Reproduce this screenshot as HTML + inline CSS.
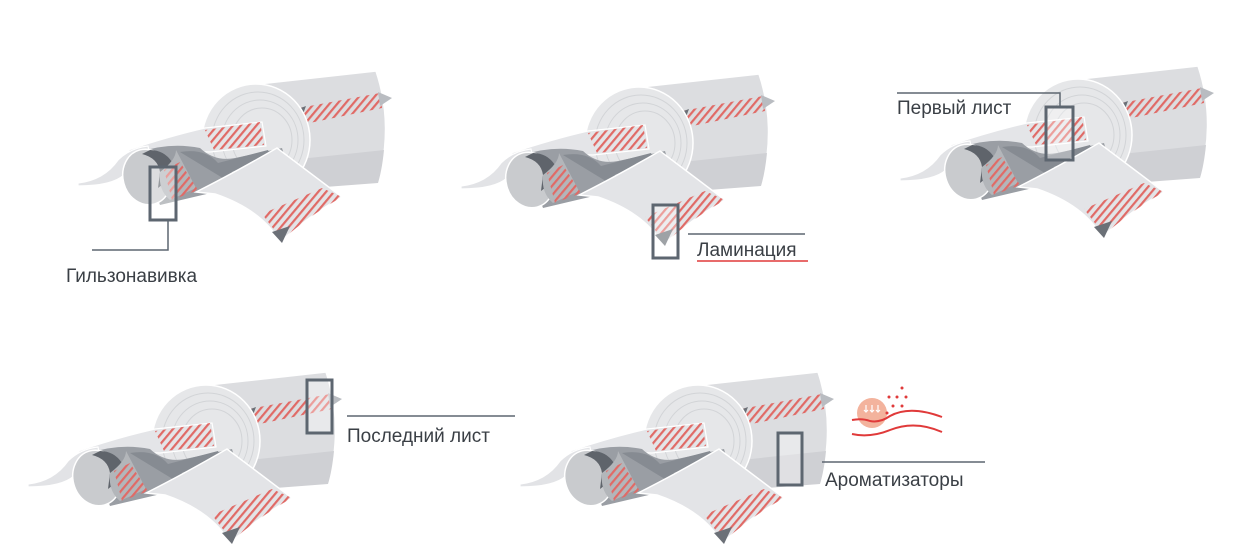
<!DOCTYPE html>
<html><head><meta charset="utf-8"><style>
html,body{margin:0;padding:0;background:#fff;}
svg{display:block;}
text{font-family:"Liberation Sans",sans-serif;fill:#3a3f45;}
</style></head><body>
<svg width="1233" height="560" viewBox="0 0 1233 560" xmlns="http://www.w3.org/2000/svg">
<defs>
<pattern id="h" width="6" height="6" patternUnits="userSpaceOnUse" patternTransform="rotate(40)">
<rect width="2.2" height="6" fill="#e06a66"/>
</pattern>
<g id="roll">
 <!-- big cylinder body -->
 <path d="M240,86 L376,71 Q394,125 378,183 L280,190 Z" fill="#dcdde0" stroke="#fff" stroke-width="1.5"/>
 <path d="M290,160 L384,150 Q382,170 378,183 L285,190 Z" fill="#cfd0d4"/>
 <!-- hatch band on big cylinder -->
 <path d="M288,110 L380,93 L382,108 L295,126 Z" fill="url(#h)"/>
 <path d="M290,112 L306,106 L300,122 Z" fill="#6b7077"/>
 <path d="M378,92 L392,98 L380,106 Z" fill="#b9bcc1"/>
 <!-- left end of big roll -->
 <ellipse cx="256" cy="140" rx="54" ry="56" fill="#e6e7e9" stroke="#fff" stroke-width="1.5"/>
 <ellipse cx="258" cy="140" rx="46" ry="48" fill="none" stroke="#d2d4d7" stroke-width="1"/>
 <ellipse cx="260" cy="140" rx="38" ry="40" fill="none" stroke="#d2d4d7" stroke-width="1"/>
 <ellipse cx="262" cy="140" rx="30" ry="32" fill="none" stroke="#d2d4d7" stroke-width="1"/>
 <!-- upper sheet going into roll -->
 <path d="M128,150 Q170,136 205,128 L262,122 L266,146 L210,152 Q170,150 140,160 Z" fill="#e4e5e8" stroke="#fff" stroke-width="1.2"/>
 <path d="M205,130 L260,122 L264,145 L214,150 Z" fill="url(#h)"/>
 <!-- gray tube body -->
 <path d="M140,152 Q170,142 200,148 Q215,162 235,158 L282,148 L288,168 L215,192 L160,205 Z" fill="#9a9ea4"/>
 <path d="M180,152 Q205,148 218,163 L268,150 L275,166 L226,180 Z" fill="#868b92"/>
 <path d="M232,172 L262,160 L268,168 L238,178 Z" fill="#c8cacd"/>
 <!-- left flap -->
 <path d="M78,183 Q104,180 118,160 Q130,148 148,146 L150,156 Q132,160 124,175 Q112,186 78,186 Z" fill="#e2e3e6" stroke="#fff" stroke-width="1.2"/>
 <!-- tube opening -->
 <ellipse cx="147" cy="177" rx="24" ry="28" transform="rotate(-15 147 177)" fill="#c9cbce" stroke="#fff" stroke-width="1.5"/>
 <path d="M142,154 Q158,158 160,172 L158,188 Q172,178 172,162 Q164,150 150,150 Z" fill="#5f646b"/>
 <path d="M160,172 Q176,160 176,150 L196,188 L170,200 Q158,190 160,172 Z" fill="#b3b6ba"/>
 <path d="M164,170 L180,162 L198,190 L172,200 Z" fill="url(#h)"/>
 <!-- lower sheet -->
 <path d="M196,192 Q230,175 277,148 L342,197 Q310,215 280,242 Q262,210 215,194 Z" fill="#e3e4e7" stroke="#fff" stroke-width="1.5"/>
 <path d="M262,214 L322,188 L342,197 Q310,215 282,240 Z" fill="url(#h)"/>
 <path d="M272,232 L290,226 L282,243 Z" fill="#6b7077"/>
</g>
</defs>

<use href="#roll"/>
<use href="#roll" transform="translate(383,3)"/>
<use href="#roll" transform="translate(822,-5)"/>
<use href="#roll" transform="translate(-50,301)"/>
<use href="#roll" transform="translate(442,301)"/>

<g stroke="#5d6670" stroke-width="3" fill="#fff" fill-opacity="0.35">
 <rect x="150" y="167" width="26" height="53"/>
 <rect x="653" y="205" width="25" height="53"/>
 <rect x="1046" y="107" width="27" height="53"/>
 <rect x="307" y="380" width="25" height="53"/>
 <rect x="778" y="433" width="24" height="52"/>
</g>
<g fill="none" stroke="#5d6670" stroke-width="1.5">
 <polyline points="168,220 168,250 92,250"/>
 <line x1="688" y1="234" x2="805" y2="234"/>
 <polyline points="897,93 1060,93 1060,107"/>
 <line x1="347" y1="416" x2="515" y2="416"/>
 <line x1="822" y1="462" x2="985" y2="462"/>
</g>
<line x1="697" y1="261" x2="808" y2="261" stroke="#e03a3a" stroke-width="1.5"/>

<text x="66" y="282" font-size="19">Гильзонавивка</text>
<text x="697" y="256" font-size="19">Ламинация</text>
<text x="897" y="114" font-size="19">Первый лист</text>
<text x="347" y="442" font-size="19">Последний лист</text>
<text x="825" y="486" font-size="19">Ароматизаторы</text>

<!-- aroma icon -->
<circle cx="872" cy="413" r="15" fill="#f3b39d"/>
<g stroke="#fff" stroke-width="1.2" fill="none">
 <path d="M866,405 v7 m-2,-2 l2,2 l2,-2"/><path d="M872,405 v7 m-2,-2 l2,2 l2,-2"/><path d="M878,405 v7 m-2,-2 l2,2 l2,-2"/>
</g>
<g fill="#e03a3a">
 <circle cx="902" cy="388" r="1.5"/><circle cx="889" cy="397" r="1.5"/><circle cx="897" cy="397" r="1.5"/><circle cx="906" cy="397" r="1.5"/><circle cx="893" cy="406" r="1.5"/><circle cx="902" cy="406" r="1.5"/><circle cx="887" cy="413" r="1.5"/>
</g>
<g stroke="#e03a3a" stroke-width="2" fill="none">
 <path d="M852,420 Q862,418 870,421 Q880,423 890,416 Q910,405 942,417"/>
 <path d="M852,434 Q870,438 890,430 Q915,420 942,432"/>
</g>
</svg>
</body></html>
